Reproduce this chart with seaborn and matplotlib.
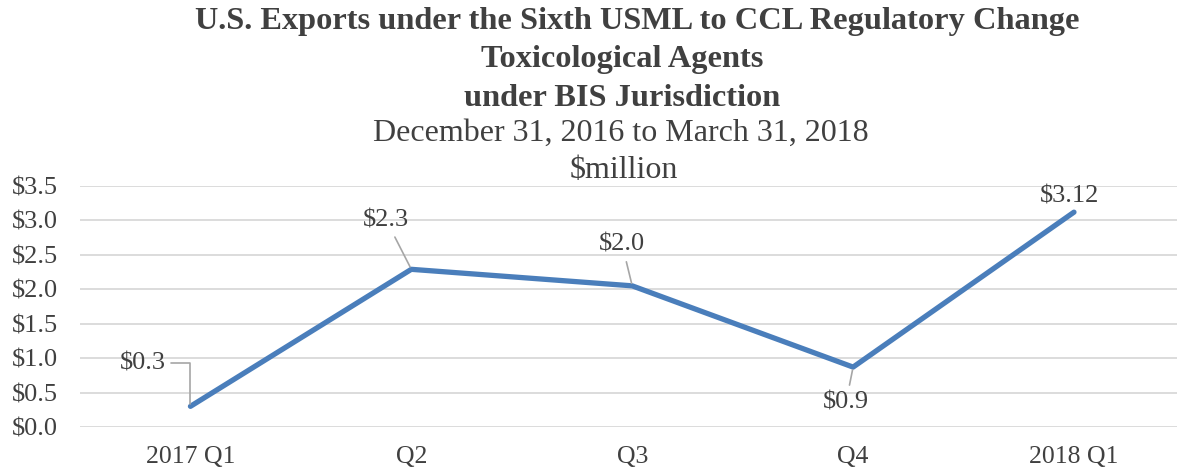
import matplotlib
matplotlib.use("Agg")
import matplotlib.pyplot as plt
import pandas as pd
import seaborn as sns

# datos
trimestres = ["2017 Q1", "Q2", "Q3", "Q4", "2018 Q1"]
valores = [0.30, 2.29, 2.05, 0.87, 3.12]
etiquetas = ["$0.3", "$2.3", "$2.0", "$0.9", "$3.12"]
y_ticks = [0.0, 0.5, 1.0, 1.5, 2.0, 2.5, 3.0, 3.5]

titulo = ["U.S. Exports under the Sixth USML to CCL Regulatory Change",
          "Toxicological Agents",
          "under BIS Jurisdiction"]
subtitulo = ["December 31, 2016 to March 31, 2018", "$million"]

df = pd.DataFrame({"Trimestre": trimestres, "Valor": valores})

sns.set_theme(style="white")
plt.rcParams["font.family"] = ["Liberation Serif", "DejaVu Serif"]

AZUL = "#4a7ebb"
GRIS_TXT = "#404040"

fig = plt.figure(figsize=(11.77, 4.74), dpi=100)
ax = fig.add_axes([80 / 1177, 47 / 474, 1100 / 1177, 241 / 474])

sns.lineplot(data=df, x="Trimestre", y="Valor", ax=ax, color=AZUL,
             linewidth=3.8, sort=False, solid_capstyle="round")

ax.set_xlim(-0.5, 4.48)
ax.set_ylim(0, 3.5)
ax.set_yticks(y_ticks)
ax.set_yticklabels([f"${v:.1f}" for v in y_ticks])
ax.set_xlabel("")
ax.set_ylabel("")
ax.grid(axis="y", color="#d9d9d9", linewidth=1.3)
ax.grid(axis="x", visible=False)
for s in ax.spines.values():
    s.set_visible(False)
ax.tick_params(axis="y", labelsize=19, labelcolor=GRIS_TXT, pad=16, length=0)
ax.tick_params(axis="x", labelsize=18.5, labelcolor=GRIS_TXT, pad=14, length=0)

# etiquetas de datos con lineas guia (desplazamientos en pixeles)
desplaz = [(-48, 43), (-25, 49), (-10, 41), (-7, -35), (-4, 16)]
conexiones = ["angle,angleA=0,angleB=90,rad=0", "arc3", "arc3", "arc3", None]
for i, (txt, (dx, dy), con) in enumerate(zip(etiquetas, desplaz, conexiones)):
    props = None
    if con is not None:
        props = dict(arrowstyle="-", color="#a6a6a6", lw=1.2,
                     connectionstyle=con, shrinkA=2, shrinkB=2)
    ax.annotate(txt, xy=(i, valores[i]), xytext=(dx, dy),
                textcoords="offset pixels", ha="center", va="center",
                fontsize=19, color=GRIS_TXT, arrowprops=props)

# titulos
centros_tit = [637, 622, 622]
for j, linea in enumerate(titulo):
    fig.text(centros_tit[j] / 1177, 1 - (22 + 38 * j) / 474, linea,
             ha="center", va="center", fontsize=23.3, fontweight="bold",
             color="#404040")
centros_sub = [621, 624]
for j, linea in enumerate(subtitulo):
    fig.text(centros_sub[j] / 1177, 1 - (133 + 37 * j) / 474, linea,
             ha="center", va="center", fontsize=23, color="#404040")

fig.savefig("out.png", dpi=100)
